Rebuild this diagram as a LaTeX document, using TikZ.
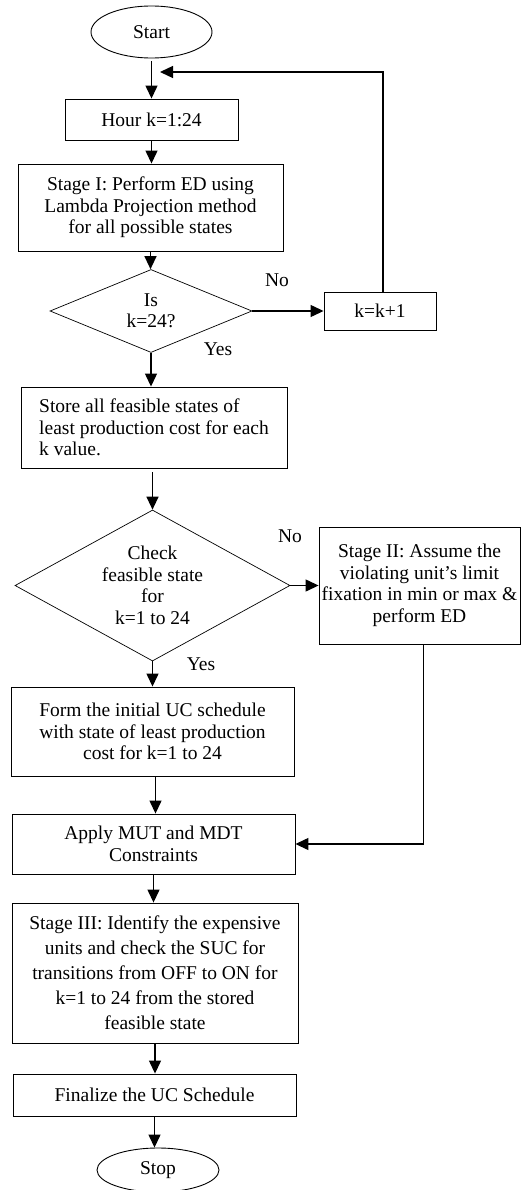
\documentclass[tikz,border=0pt]{standalone}
\usepackage{fontspec}
\setmainfont{Liberation Serif}
\usepackage{tikz}
\usetikzlibrary{shapes.geometric, arrows.meta}

\tikzset{
    box/.style={draw, line width=0.9pt, inner sep=0pt, align=center},
    term/.style={draw, ellipse, line width=0.9pt, inner sep=0pt},
    decide/.style={draw, diamond, line width=0.7pt, inner sep=0pt, align=center},
    flow/.style={line width=1.3pt, -{Triangle[length=13pt, width=12pt]}},
}

\begin{document}
\begin{tikzpicture}[x=1pt, y=-1pt, black, every node/.style={font=\fontsize{19.5}{21.5}\selectfont}]
            \useasboundingbox (0,0) rectangle (521,1190);

            % Draw the main column of steps
            \node[term, minimum width=121, minimum height=52] (start) at (151.5,32) {Start};
            \node[box, minimum width=173, minimum height=41] (hour) at (151.5,119.5) {Hour k=1:24};
            \node[box, minimum width=265, minimum height=87] (stageI) at (150.5,207.5) {Stage I: Perform ED using\\Lambda Projection method\\for all possible states};
            \node[decide, aspect=2.43, minimum width=202, minimum height=83] (isk) at (151,311) {Is\\k=24?};
            \node[box, minimum width=266, minimum height=81, align=left] (store) at (154,427.5) {Store all feasible states of\\least production cost for each\\k value.};
            \node[decide, aspect=1.82, minimum width=275, minimum height=151] (check) at (152.5,585.5) {Check\\feasible state\\for\\k=1 to 24};
            \node[box, minimum width=283, minimum height=89] (form) at (152.5,731.5) {Form the initial UC schedule\\with state of least production\\cost for k=1 to 24};
            \node[box, minimum width=283, minimum height=60] (apply) at (153.5,844) {Apply MUT and MDT\\Constraints};
            \node[box, minimum width=286, minimum height=140, font=\fontsize{19.5}{25}\selectfont] (stageIII) at (155,973) {Stage III: Identify the expensive\\units and check the SUC for\\transitions from OFF to ON for\\k=1 to 24 from the stored\\feasible state};
            \node[box, minimum width=283, minimum height=42] (final) at (154.5,1095) {Finalize the UC Schedule};
            \node[term, minimum width=122, minimum height=44] (stop) at (158,1170) {Stop};

            % Draw the side steps
            \node[box, minimum width=112, minimum height=38] (next) at (380,311) {k=k+1};
            \node[box, minimum width=201, minimum height=117] (stageII) at (419.5,585.5) {Stage II: Assume the\\violating unit's limit\\fixation in min or max \&\\perform ED};

            % Draw in the branch labels
            \node (noA) at (277,280) {No};
            \node (yesA) at (218,349) {Yes};
            \node (noB) at (290,536) {No};
            \node (yesB) at (201,664) {Yes};

            \coordinate (back) at (160,72);

            % Draw the arrows
            \draw[flow, shorten <=3pt] (start.south) -- (start.south |- hour.north);
            \draw[flow] (hour.south) -- (hour.south |- stageI.north);
            \draw[flow] (stageI.south) -- (stageI.south |- isk.north);
            \draw[flow] (isk.east) -- (isk.east -| next.west);
            \draw[flow] ([xshift=3pt]next.north) |- (back);
            \draw[flow] (isk.south) -- (isk.south |- store.north);
            \draw[flow, shorten <=4pt] (store.south -| check.north) -- (check.north);
            \draw[flow] (check.east) -- (check.east -| stageII.west);
            \draw[flow] (check.south) -- (check.south |- form.north);
            \draw[flow] ([xshift=4pt]stageII.south) |- (apply.east);
            \draw[flow] ([xshift=3pt]form.south) -- ([xshift=3pt]form.south |- apply.north);
            \draw[flow] (apply.south) -- (apply.south |- stageIII.north);
            \draw[flow] (stageIII.south) -- (stageIII.south |- final.north);
            \draw[flow] (final.south) -- (final.south |- stop.north);
        \end{tikzpicture}
\end{document}
